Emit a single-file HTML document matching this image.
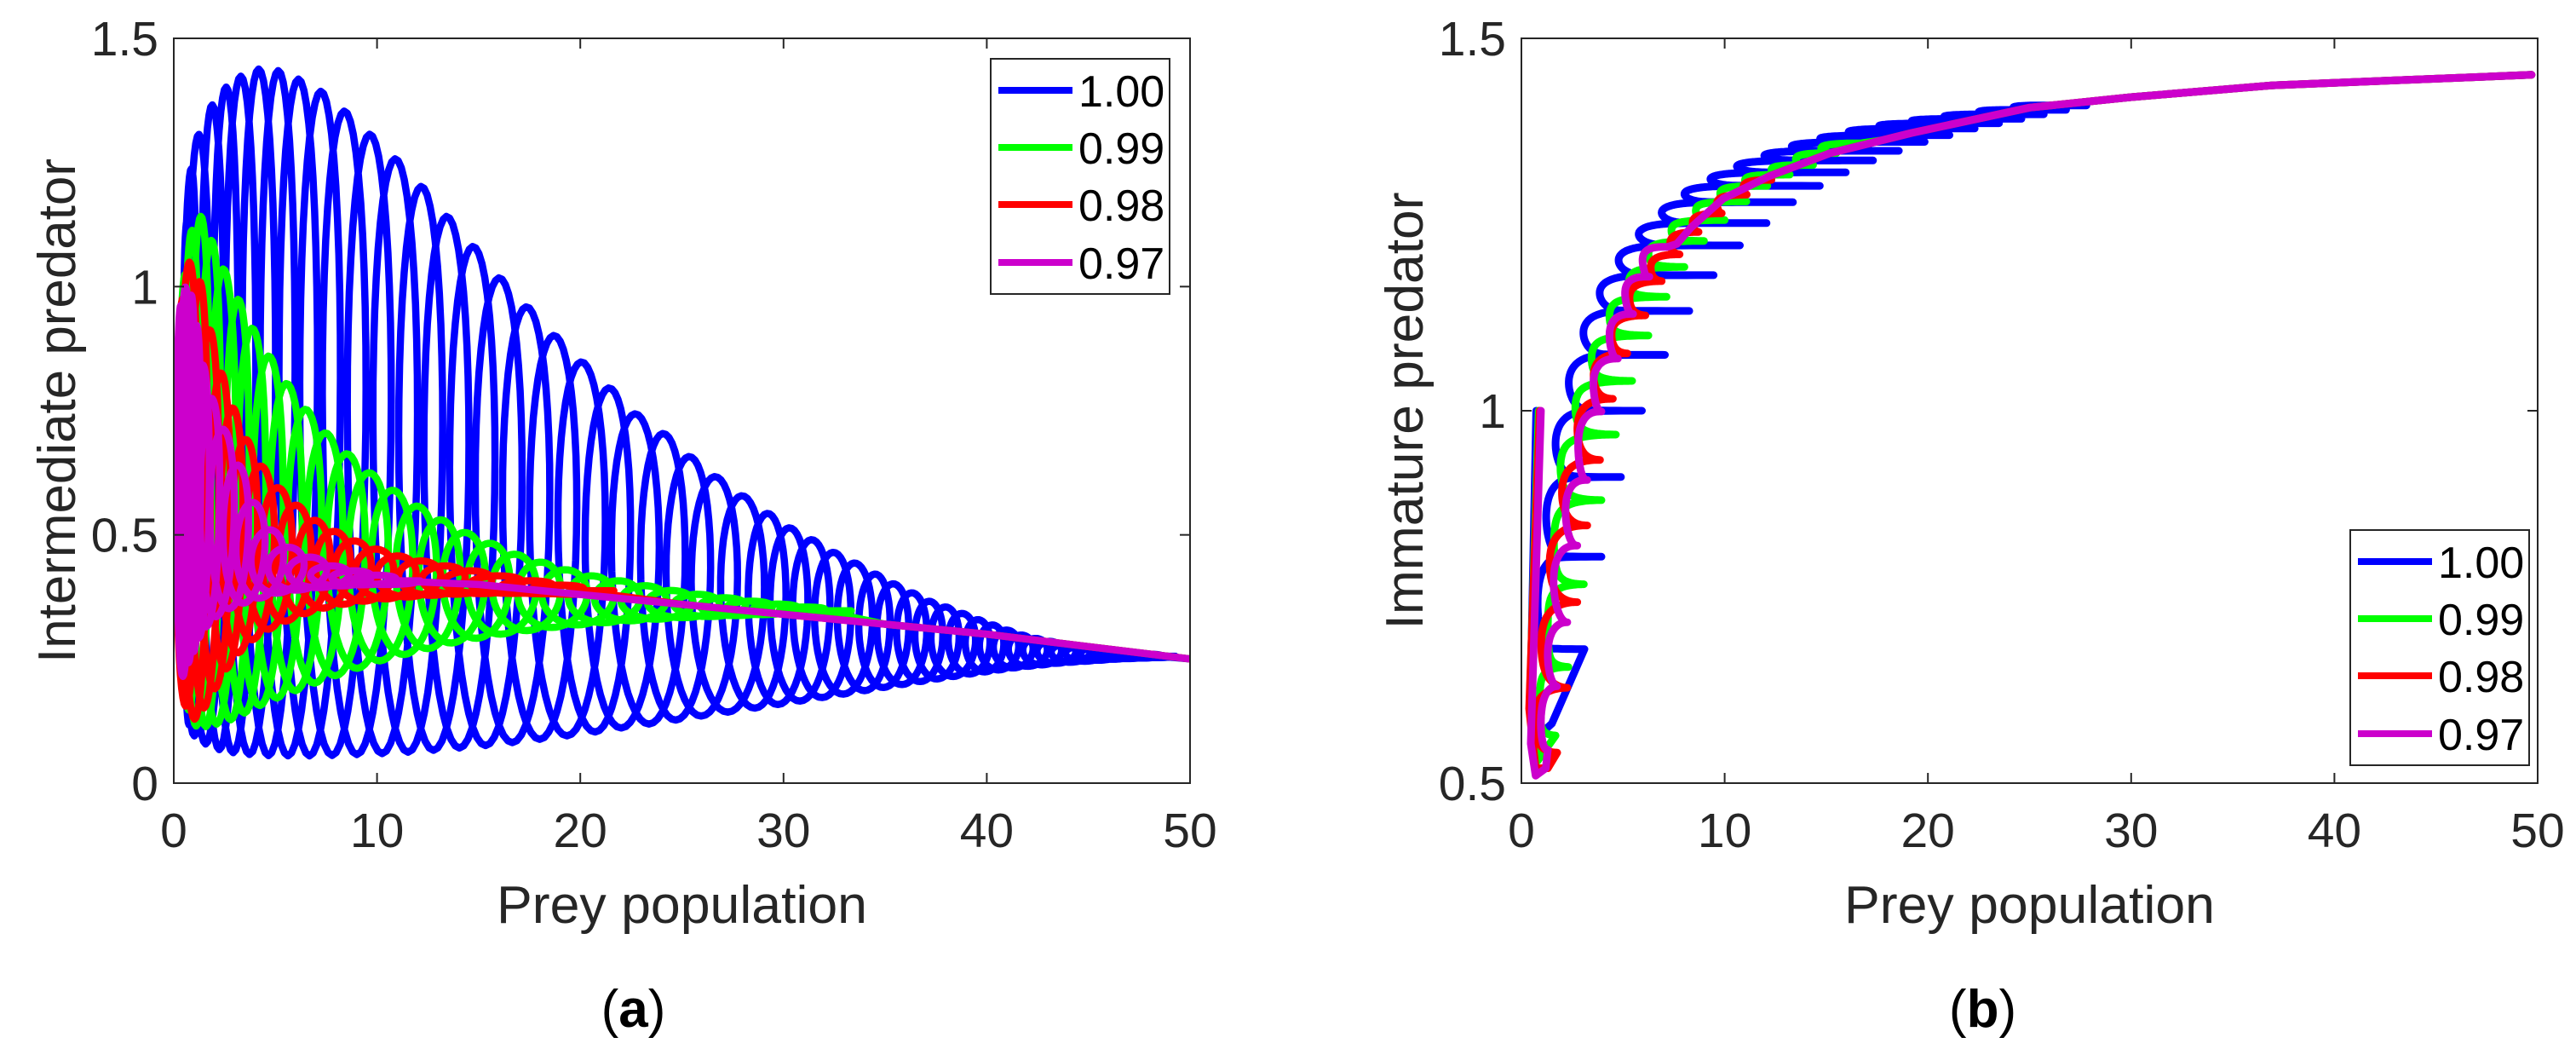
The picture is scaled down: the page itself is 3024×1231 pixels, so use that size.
<!DOCTYPE html>
<html><head><meta charset="utf-8"><style>
html,body{margin:0;padding:0;background:#fff;}
svg{display:block;}
text{font-family:"Liberation Sans",sans-serif;}
</style></head><body>
<svg id="fig" width="3024" height="1231" viewBox="0 0 3024 1231" xmlns="http://www.w3.org/2000/svg">
<defs>
<clipPath id="clipA"><rect x="204" y="45" width="1193" height="874"/></clipPath>
<clipPath id="clipB"><rect x="1786" y="45" width="1193" height="874"/></clipPath>
</defs>
<g id="panelA"></g>
<g id="panelB"></g>
</svg>
<script>
const xTicks = [0,10,20,30,40,50];
const yTicksA = [0,0.5,1,1.5];
const yTickLabelsA = ["0","0.5","1","1.5"];
const yTicksB = [0.5,1,1.5];
const yTickLabelsB = ["0.5","1","1.5"];
const seriesNames = ["1.00","0.99","0.98","0.97"];
const seriesColors = ["#0000ff","#00ff00","#ff0000","#cc00cc"];

// ---- Panel (a): loop centres, tops, bottoms ----
const blueX = [0.6,0.8,1.08,1.73,2.41,3.09,3.94,4.9,5.86,6.95,8.07,9.32,10.56,11.85,13.09,14.38,15.66,16.99,18.35,19.68,21.08,22.33,23.73,25.02,26.27,27.59,28.92,30.0,31.08,32.17,33.2,34.26,35.14,36.06,36.95,37.75,38.55,39.36,40.08,40.76,41.49,42.2,42.9,43.6,44.3,45.0,45.7,46.4,47.1,47.8,48.5];
const blueTop = [1.1,1.22,1.29,1.356,1.396,1.419,1.438,1.439,1.423,1.403,1.365,1.319,1.271,1.217,1.156,1.097,1.032,0.974,0.915,0.861,0.81,0.753,0.716,0.668,0.627,0.588,0.551,0.52,0.497,0.47,0.449,0.426,0.406,0.388,0.369,0.358,0.345,0.332,0.321,0.311,0.3,0.293,0.287,0.281,0.276,0.272,0.268,0.265,0.262,0.26,0.258];
const blueBot = [0.14,0.11,0.09,0.075,0.065,0.06,0.057,0.055,0.055,0.055,0.056,0.058,0.06,0.063,0.067,0.072,0.077,0.083,0.09,0.097,0.105,0.113,0.121,0.129,0.137,0.145,0.153,0.16,0.167,0.174,0.181,0.188,0.194,0.2,0.206,0.211,0.216,0.221,0.225,0.229,0.233,0.236,0.239,0.242,0.244,0.246,0.248,0.25,0.251,0.252,0.253];

const greenX = [0.5,0.8,1.2,1.71,2.24,2.99,3.64,4.44,5.29,6.22,7.17,8.21,9.3,10.43,11.63,12.8,13.96,15.2,16.4,17.7,18.9,20.2,21.5,22.8,24.1,25.4,26.7,28,29.3,30.6,31.9];
const greenTop = [1.0,1.1,1.153,1.107,1.051,0.989,0.93,0.874,0.818,0.765,0.716,0.673,0.634,0.598,0.565,0.537,0.51,0.489,0.465,0.449,0.433,0.42,0.41,0.40,0.39,0.382,0.375,0.368,0.362,0.356,0.35];
const greenBot = [0.2,0.13,0.11,0.115,0.12,0.13,0.145,0.16,0.175,0.19,0.205,0.22,0.235,0.25,0.262,0.274,0.285,0.294,0.302,0.309,0.315,0.32,0.324,0.328,0.331,0.334,0.336,0.338,0.34,0.342,0.344];

const redX = [0.4,0.64,1.15,1.6,2.16,2.72,3.33,4.04,4.86,5.73,6.66,7.59,8.58,9.6,10.7,11.8,13,14.2,15.5,17,18.5,20];
const redTop = [0.95,1.054,1.035,0.936,0.844,0.772,0.706,0.65,0.604,0.568,0.535,0.512,0.492,0.475,0.46,0.45,0.44,0.43,0.42,0.41,0.40,0.395];
const redBot = [0.2,0.14,0.125,0.16,0.2,0.24,0.27,0.295,0.315,0.33,0.345,0.355,0.362,0.368,0.372,0.376,0.379,0.381,0.382,0.382,0.381,0.38];

const purpleX = [0.3,0.5,0.8,1.04,1.3,1.7,2.2,2.9,3.6,4.4,5.3,6.3,7.4,8.5,9.6,10.8];
const purpleTop = [0.95,1.0,0.996,0.943,0.86,0.79,0.73,0.66,0.58,0.52,0.48,0.46,0.44,0.43,0.42,0.415];
const purpleBot = [0.2,0.22,0.25,0.27,0.3,0.32,0.34,0.355,0.365,0.375,0.385,0.39,0.395,0.398,0.4,0.4];

const tailAX = [12,15,20,25,30,35,40,45,50];
const tailAY = [0.41,0.40,0.38,0.36,0.34,0.32,0.30,0.275,0.25];

// ---- Panel (b): spike centre y, spike tip x, left bulge x (between spikes) ----
const bBlueY  = [0.68,0.804,0.911,1.0,1.075,1.134,1.182,1.222,1.252,1.28,1.302,1.32,1.336,1.349,1.361,1.37,1.379,1.386,1.392,1.398,1.404,1.41];
const bBlueHi = [3.1,3.94,4.9,5.93,7.06,8.26,9.46,10.75,12.06,13.36,14.68,15.96,17.3,18.57,19.84,21.06,22.3,23.5,24.6,25.7,26.8,27.8];
const bBlueLo = [0.8,1.22,1.68,2.33,3.05,3.85,4.78,5.77,6.9,8.02,9.3,10.6,11.95,13.3,14.7,16.1,17.6,19.2,20.8,22.5,24.2];
const bGreenY  = [0.564,0.656,0.767,0.88,0.968,1.04,1.101,1.153,1.193,1.228,1.256,1.281,1.302,1.317,1.33,1.346,1.359];
const bGreenHi = [1.68,2.31,3.07,3.94,4.65,5.45,6.25,7.14,8.02,8.98,10.0,11.07,12.1,13.2,14.35,15.5,16.7];
const bGreenLo = [0.9,1.3,1.6,1.92,2.65,3.45,4.33,5.29,6.25,7.38,8.58,9.78,11,12.3,13.5,14.75];
const bRedY  = [0.541,0.628,0.743,0.846,0.934,1.016,1.077,1.128,1.174,1.21,1.24,1.265,1.29,1.31];
const bRedHi = [1.76,2.26,2.75,3.24,3.87,4.5,5.21,6.1,6.9,7.78,8.7,9.8,11,12.3];
const bRedLo = [0.6,0.94,1.36,1.97,2.73,3.53,4.41,5.29,6.34,7.3,8.4,9.6,10.9];
const bPurpleY  = [0.545,0.63,0.716,0.819,0.907,0.999,1.07,1.13,1.18,1.22];
const bPurpleHi = [1.3,1.75,2.26,2.75,3.24,3.94,4.75,5.5,6.3,7.2];
const bPurpleLo = [0.9,1.2,1.5,2.12,2.75,3.5,4.3,5.1,6.0];
const startBlueX=[0.73,0.45,0.7,1.5], startBlueY=[1.0,0.62,0.56,0.58];
const startGreenX=[0.85,0.4,0.8], startGreenY=[1.0,0.6,0.53];
const startRedX=[0.9,0.38,0.7,1.3], startRedY=[1.0,0.6,0.52,0.52];
const startPurpleX=[0.96,0.46,0.7,1.2], startPurpleY=[1.0,0.553,0.51,0.52];
const mainBX = [1.1,1.5,2.1,2.6,3.05,3.69,4.81,5.6,6.9,8.34,9.94,12.2,15.2,19.2,25,30,37,49.7];
const mainBY = [0.6,0.69,0.78,0.85,0.911,0.999,1.094,1.147,1.2,1.246,1.285,1.315,1.346,1.373,1.407,1.421,1.437,1.451];

const NS = "http://www.w3.org/2000/svg";
function mk(tag, attrs, parent){const e=document.createElementNS(NS,tag);for(const k in attrs)e.setAttribute(k,attrs[k]);if(parent)parent.appendChild(e);return e;}

function makeAxes(g, x0, ymin, ymax, yt, ytl, yTitle, titleLen, panelLabel){
  const W=1193, top=45, bot=919;
  const sx=v=>x0+v/50*W, sy=v=>bot-(v-ymin)/(ymax-ymin)*(bot-top);
  return {sx, sy, draw(){
    const box=mk('rect',{x:x0,y:top,width:W,height:bot-top,fill:'none',stroke:'#262626','stroke-width':2},g);
    
    
    xTicks.forEach(v=>{
      const t1=mk('line',{x1:sx(v),x2:sx(v),y1:bot,y2:bot-12,stroke:'#262626','stroke-width':2},g);
      
      
      const t2=mk('line',{x1:sx(v),x2:sx(v),y1:top,y2:top+12,stroke:'#262626','stroke-width':2},g);
      
      
      const l=mk('text',{x:sx(v),y:994,'text-anchor':'middle','font-size':57,fill:'#262626'},g);
      l.textContent=String(v);
      
      
    });
    yt.forEach((v,i)=>{
      const t1=mk('line',{x1:x0,x2:x0+12,y1:sy(v),y2:sy(v),stroke:'#262626','stroke-width':2},g);
      
      
      const t2=mk('line',{x1:x0+W,x2:x0+W-12,y1:sy(v),y2:sy(v),stroke:'#262626','stroke-width':2},g);
      
      
      const l=mk('text',{x:x0-18,y:sy(v)+20,'text-anchor':'end','font-size':57,fill:'#262626'},g);
      l.textContent=ytl[i];
      
      
    });
    const xt=mk('text',{x:x0+W/2,y:1083,'text-anchor':'middle','font-size':62,fill:'#262626',textLength:435,lengthAdjust:'spacingAndGlyphs'},g);
    xt.textContent='Prey population';
    
    
    const tx=x0-116, ty=(top+bot)/2;
    const yT=mk('text',{x:0,y:0,'text-anchor':'middle','font-size':62,fill:'#262626',textLength:titleLen,lengthAdjust:'spacingAndGlyphs',transform:`translate(${tx},${ty}) rotate(-90)`},g);
    yT.textContent=yTitle;
    
    
    const pl=mk('text',{x:x0+W/2+(panelLabel==='a'?-57:-55),y:1205,'text-anchor':'middle','font-size':62,fill:'#000','font-family':'"Liberation Serif",serif'},g);
    pl.innerHTML=`(<tspan font-weight="bold">${panelLabel}</tspan>)`;
    
    
  }};
}

function legend(g, bx, by){
  const box=mk('rect',{x:bx,y:by,width:210,height:276,fill:'#fff',stroke:'#262626','stroke-width':2},g);
  
  
  const offs=[37,104,171,239];
  seriesNames.forEach((n,i)=>{
    const ln=mk('line',{x1:bx+9,x2:bx+96,y1:by+offs[i],y2:by+offs[i],stroke:seriesColors[i],'stroke-width':8},g);
    
    
    const t=mk('text',{x:bx+103,y:by+offs[i]+19,'font-size':52,fill:'#000'},g);
    t.textContent=n;
    
    
  });
}

function oscPoints(xLo,xHi,yLo,yHi,p){
  const pts=[], steps=48;
  for(let k=0;k<xLo.length-1;k++){
    for(let s=0;s<steps;s++){
      const f=s/steps, th=2*Math.PI*f;
      const L=xLo[k]+(xLo[k+1]-xLo[k])*f, H=xHi[k]+(xHi[k+1]-xHi[k])*f;
      const yl=yLo[k]+(yLo[k+1]-yLo[k])*f, yh=yHi[k]+(yHi[k+1]-yHi[k])*f;
      const w=Math.pow((1+Math.cos(th))/2,p);
      pts.push([L+(H-L)*w, yl+(yh-yl)*(1+Math.sin(th))/2]);
    }
  }
  const n=xLo.length-1;
  pts.push([xHi[n], (yLo[n]+yHi[n])/2]);
  return pts;
}

function pathFrom(pts, sx, sy){
  return pts.map((q,i)=>(i?'L':'M')+sx(q[0]).toFixed(1)+' '+sy(q[1]).toFixed(1)).join(' ');
}

// Panel A
const gA=document.getElementById('panelA');
const A=makeAxes(gA,204,0,1.5,yTicksA,yTickLabelsA,'Intermediate predator',592,'a');
const curvesA=mk('g',{'clip-path':'url(#clipA)'},gA);


const seriesA=[[blueX,blueTop,blueBot],[greenX,greenTop,greenBot],[redX,redTop,redBot],[purpleX,purpleTop,purpleBot]];
seriesA.forEach((s,i)=>{
  const [cx,top,bot]=s;
  const hw=cx.map((v,k)=>1.1*(k<cx.length-1?cx[k+1]-cx[k]:cx[k]-cx[k-1]));
  const xLo=cx.map((v,k)=>v-hw[k]), xHi=cx.map((v,k)=>v+hw[k]);
  const pts=oscPoints(xLo,xHi,bot,top,1);
  const last=cx.length-1;
  pts.push([cx[last],(top[last]+bot[last])/2]);
  tailAX.forEach((x,k)=>{ if(x>cx[last]+hw[last]) pts.push([x,tailAY[k]]); });
  const p=mk('path',{d:pathFrom(pts,A.sx,A.sy),fill:'none',stroke:seriesColors[i],'stroke-width':8.5,'stroke-linejoin':'round'},curvesA);
  
  
});
A.draw();
legend(gA,1163,69);

// Panel B
function mainX(y){
  if(y<=mainBY[0]) return mainBX[0];
  for(let k=0;k<mainBY.length-1;k++){
    if(y<=mainBY[k+1]){const f=(y-mainBY[k])/(mainBY[k+1]-mainBY[k]);return mainBX[k]+f*(mainBX[k+1]-mainBX[k]);}
  }
  return mainBX[mainBX.length-1];
}
function spiralB(cy,hi,lo,w){
  const pts=[], steps=90;
  const s=f=>Math.exp(-(f/w)*(f/w));
  for(let k=0;k<cy.length-1;k++){
    for(let j=0;j<steps;j++){
      const f=j/steps;
      const y=cy[k]+(cy[k+1]-cy[k])*(f-Math.sin(2*Math.PI*f)/(2*Math.PI));
      const xm=mainX(y);
      const x=xm+(hi[k]-mainX(cy[k]))*s(f)+(hi[k+1]-mainX(cy[k+1]))*s(1-f)-(xm-lo[k])*Math.sin(Math.PI*f);
      pts.push([x,y]);
    }
  }
  const n=cy.length-1;
  pts.push([hi[n],cy[n]]);
  pts.push([mainX(cy[n]+0.004),cy[n]+0.004]);
  return pts;
}
const gB=document.getElementById('panelB');
const B=makeAxes(gB,1786,0.5,1.5,yTicksB,yTickLabelsB,'Immature predator',513,'b');
const curvesB=mk('g',{'clip-path':'url(#clipB)'},gB);


const seriesB=[
  [bBlueY,bBlueHi,bBlueLo,0.07,startBlueX,startBlueY],
  [bGreenY,bGreenHi,bGreenLo,0.18,startGreenX,startGreenY],
  [bRedY,bRedHi,bRedLo,0.25,startRedX,startRedY],
  [bPurpleY,bPurpleHi,bPurpleLo,0.32,startPurpleX,startPurpleY]];
seriesB.forEach((s,i)=>{
  const [cy,hi,lo,w,sxA,syA]=s;
  let pts=sxA.map((x,k)=>[x,syA[k]]);
  pts=pts.concat(spiralB(cy,hi,lo,w));
  const lastY=cy[cy.length-1]+0.004;
  mainBX.forEach((x,k)=>{ if(mainBY[k]>lastY) pts.push([x,mainBY[k]]); });
  const p=mk('path',{d:pathFrom(pts,B.sx,B.sy),fill:'none',stroke:seriesColors[i],'stroke-width':9,'stroke-linejoin':'round','stroke-linecap':'round'},curvesB);
  
  
});
B.draw();
legend(gB,2759,622);
</script>
</body></html>
